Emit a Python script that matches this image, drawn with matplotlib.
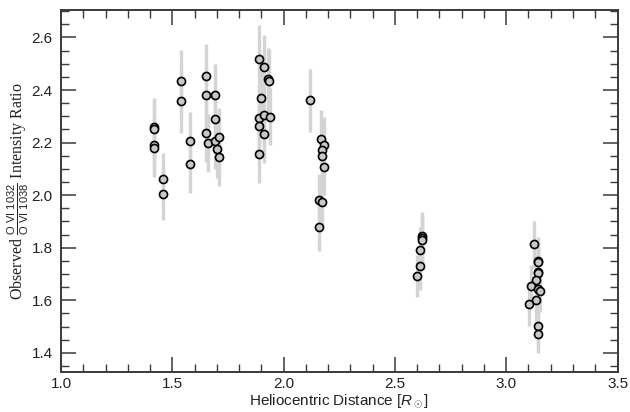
import matplotlib as mpl
mpl.use('Agg')
import matplotlib.pyplot as plt
from matplotlib.ticker import MultipleLocator

plt.rcParams['font.family'] = 'Liberation Sans'
plt.rcParams['mathtext.fontset'] = 'custom'
plt.rcParams['mathtext.rm'] = 'Liberation Sans'
plt.rcParams['mathtext.it'] = 'Liberation Sans:italic'

# distance [R_sun], observed ratio, error
dist = [1.419, 1.419, 1.419, 1.419, 1.460, 1.460,
        1.540, 1.540, 1.581, 1.581,
        1.651, 1.651, 1.651, 1.660,
        1.692, 1.692, 1.692, 1.701, 1.711, 1.711,
        1.891, 1.912, 1.931, 1.933, 1.900, 1.891, 1.912, 1.940, 1.891, 1.912, 1.891,
        2.120,
        2.170, 2.182, 2.171, 2.171, 2.180, 2.161, 2.173, 2.161,
        2.620, 2.620, 2.621, 2.611, 2.611, 2.601,
        3.124, 3.141, 3.142, 3.141, 3.142, 3.132, 3.111, 3.141, 3.150, 3.132,
        3.102, 3.141, 3.141]
ratio = [2.258, 2.250, 2.189, 2.178, 2.060, 2.006,
         2.433, 2.357, 2.208, 2.120,
         2.455, 2.381, 2.238, 2.198,
         2.381, 2.289, 2.208, 2.176, 2.222, 2.146,
         2.517, 2.489, 2.441, 2.436, 2.370, 2.294, 2.304, 2.299, 2.265, 2.231, 2.157,
         2.361,
         2.214, 2.189, 2.170, 2.148, 2.109, 1.980, 1.974, 1.877,
         1.845, 1.836, 1.829, 1.790, 1.729, 1.694,
         1.813, 1.750, 1.746, 1.707, 1.704, 1.677, 1.653, 1.642, 1.635, 1.600,
         1.584, 1.501, 1.471]
err = [0.11, 0.11, 0.11, 0.11, 0.10, 0.10,
       0.12, 0.12, 0.11, 0.11,
       0.12, 0.12, 0.11, 0.11,
       0.12, 0.11, 0.11, 0.11, 0.11, 0.11,
       0.13, 0.12, 0.12, 0.12, 0.12, 0.11, 0.12, 0.11, 0.11, 0.11, 0.11,
       0.12,
       0.11, 0.11, 0.11, 0.11, 0.11, 0.10, 0.10, 0.09,
       0.09, 0.09, 0.09, 0.09, 0.09, 0.08,
       0.09, 0.09, 0.09, 0.09, 0.09, 0.08, 0.08, 0.08, 0.08, 0.08,
       0.08, 0.08, 0.07]

fig = plt.figure(figsize=(6.3, 4.12), dpi=100)
ax = fig.add_axes([0.0968, 0.097, 0.8834, 0.879])

ax.errorbar(dist, ratio, yerr=err, fmt='none', ecolor='#d4d4d4',
            elinewidth=2.4, capsize=0, zorder=2)
ax.plot(dist, ratio, 'o', ms=5.8, mfc='#c8c8c8', mec='black', mew=1.2,
        linestyle='none', zorder=3)

ax.set_xlim(1.0, 3.5)
ax.set_ylim(1.327, 2.705)
ax.xaxis.set_major_locator(MultipleLocator(0.5))
ax.xaxis.set_minor_locator(MultipleLocator(0.1))
ax.yaxis.set_major_locator(MultipleLocator(0.2))
ax.yaxis.set_minor_locator(MultipleLocator(0.05))
ax.xaxis.set_major_formatter(mpl.ticker.FormatStrFormatter('%.1f'))
ax.yaxis.set_major_formatter(mpl.ticker.FormatStrFormatter('%.1f'))

ax.tick_params(which='both', direction='in', top=True, right=True,
               colors='#3a3a3a', labelcolor='#222222', labelsize=11)
ax.tick_params(which='major', length=11, width=1.1)
ax.tick_params(which='minor', length=5.5, width=1.0)
ax.tick_params(axis='x', which='major', pad=3.5)
ax.tick_params(axis='y', which='major', pad=6)
for s in ax.spines.values():
    s.set_color('#3a3a3a')
    s.set_linewidth(1.4)

ax.set_xlabel(r'Heliocentric Distance [$R_\odot$]', fontsize=11,
              color='#222222', labelpad=1)
ax.set_ylabel(r'Observed $\frac{\mathrm{O\ VI\ 1032}}{\mathrm{O\ VI\ 1038}}$ Intensity Ratio',
              fontsize=11.5, family='Liberation Serif', color='#222222', labelpad=0.5)

fig.savefig('out.png', dpi=100)
